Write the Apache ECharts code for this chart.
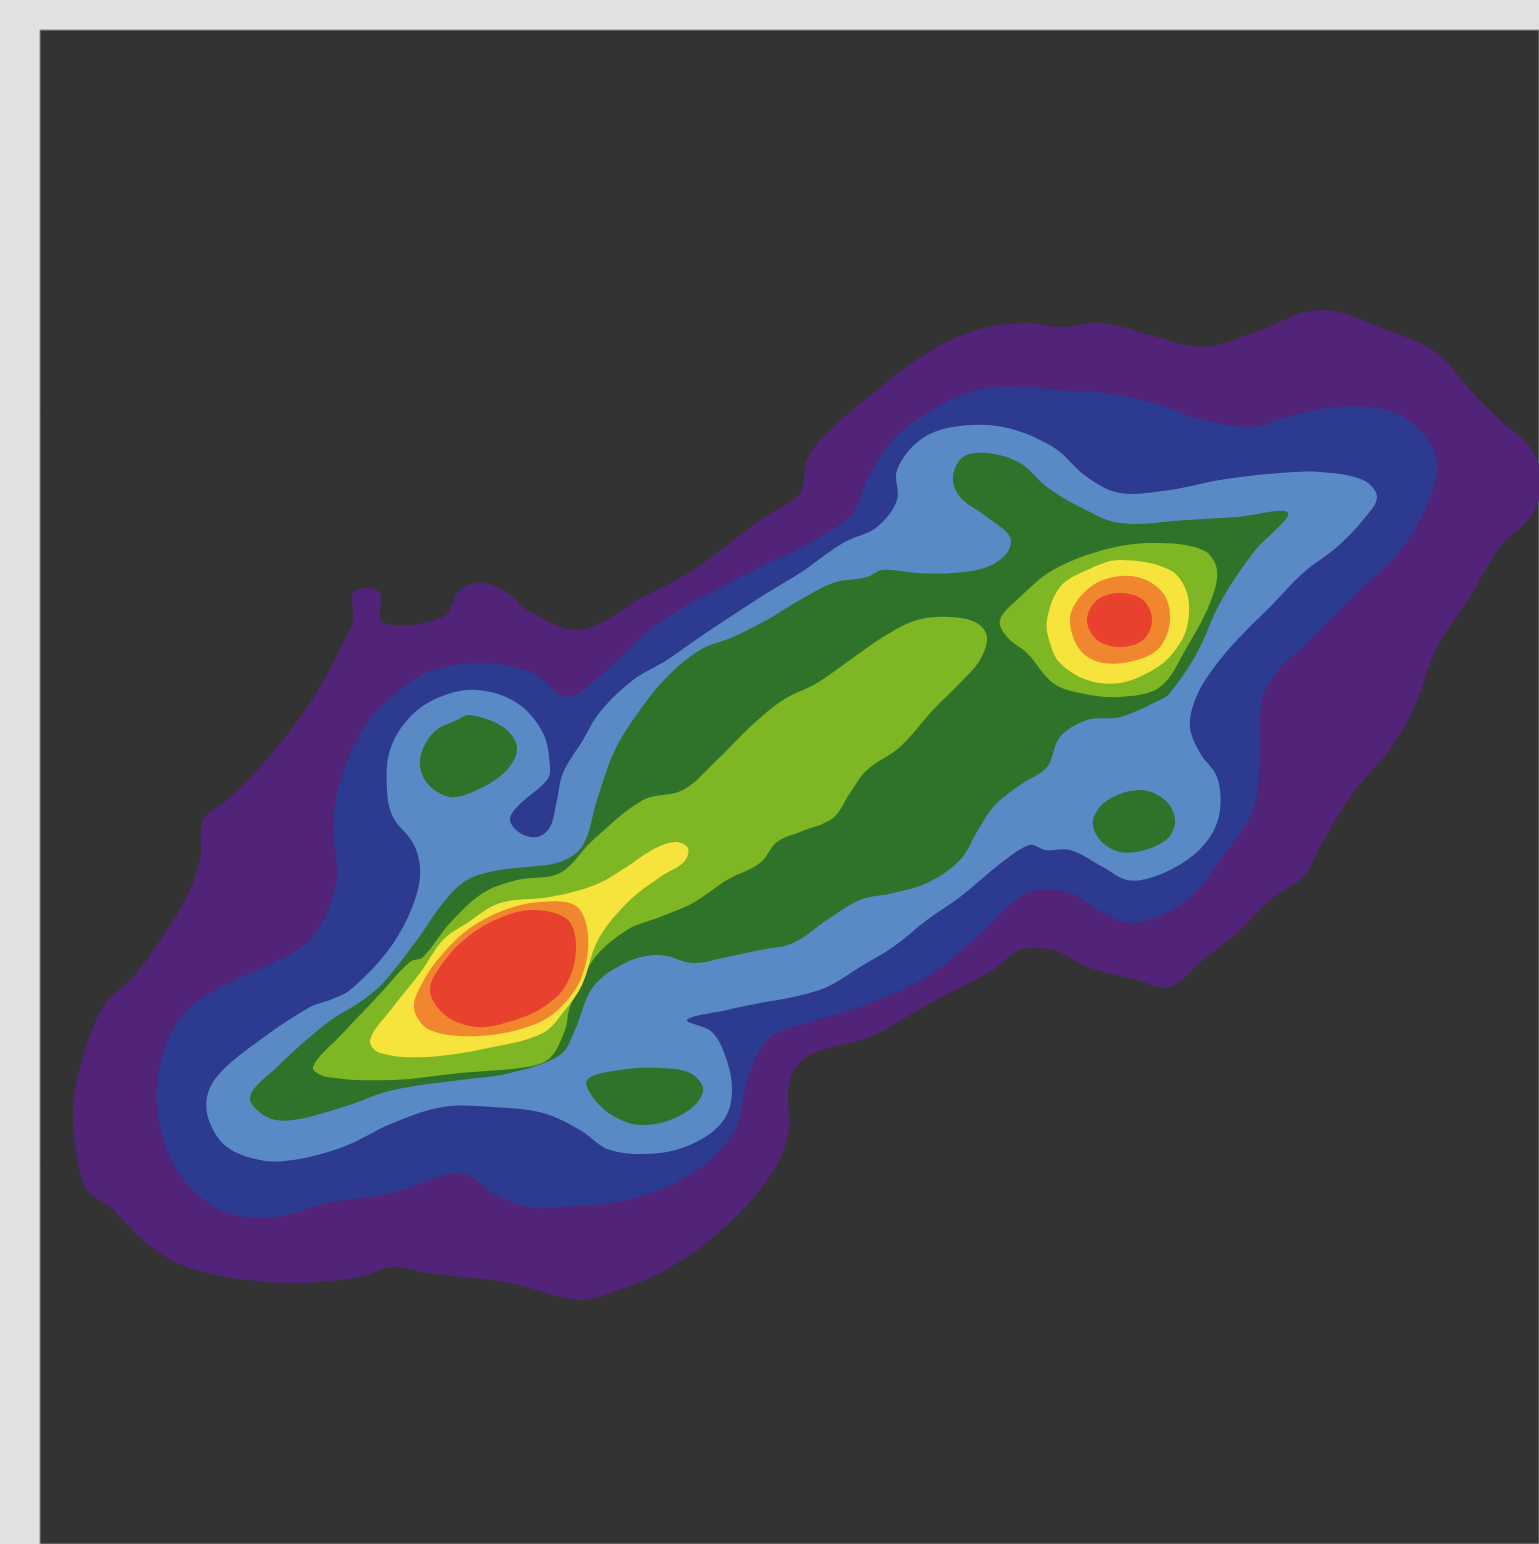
<!DOCTYPE html>
<html>
<head>
<meta charset="utf-8">
<title>Density contours</title>
<script src="https://cdn.jsdelivr.net/npm/echarts@6/dist/echarts.min.js"></script>
<style>
  html, body { margin: 0; padding: 0; background: #e2e2e2; }
  #chart { width: 1539px; height: 1544px; }
</style>
</head>
<body>
<div id="chart"></div>
<script>
// contour outlines, in the chart's own x / y units (y grows downwards)
const purpleOuter = [[353,620],[353,593],[368,588],[380,593],[383,623],[443,617],[460,590],[483,583],[510,595],[527,610],[580,630],[643,597],[693,570],[760,520],[800,493],[807,460],[827,433],[877,390],[927,353],[977,330],[1027,323],[1060,327],[1103,323],[1150,335],[1203,347],[1253,333],[1320,310],[1387,330],[1437,353],[1470,390],[1503,423],[1530,447],[1542,480],[1532,515],[1500,547],[1470,597],[1437,647],[1413,710],[1387,753],[1353,793],[1320,847],[1303,877],[1270,900],[1237,933],[1203,960],[1170,987],[1137,980],[1087,967],[1053,950],[1020,950],[993,970],[927,1005],[870,1037],[810,1055],[790,1080],[787,1140],[760,1190],[710,1240],[660,1273],[610,1293],[577,1300],[510,1283],[427,1273],[393,1267],[360,1277],[293,1283],[227,1277],[177,1263],[143,1240],[110,1207],[87,1190],[77,1157],[73,1107],[83,1057],[103,1007],[135,975],[160,940],[185,900],[200,860],[203,820],[227,800],[260,767],[293,727],[320,687],[343,643]];

const darkBlueOuter = [[433,670],[483,663],[533,673],[567,697],[610,667],[650,630],[687,605],[710,593],[760,567],[810,543],[853,513],[867,480],[893,440],[927,413],[977,390],[1027,387],[1053,390],[1103,393],[1153,403],[1203,420],[1253,427],[1287,417],[1337,407],[1387,410],[1420,430],[1437,463],[1430,497],[1403,547],[1353,597],[1303,647],[1280,668],[1262,700],[1260,760],[1253,810],[1220,860],[1187,900],[1137,923],[1103,913],[1070,893],[1027,893],[977,937],[927,977],[860,1007],[793,1027],[767,1040],[747,1080],[735,1130],[693,1173],[627,1200],[560,1207],[527,1207],[493,1193],[460,1173],[393,1193],[327,1203],[277,1217],[227,1213],[193,1190],[170,1157],[157,1107],[162,1057],[185,1012],[225,985],[275,962],[310,940],[330,905],[337,873],[333,823],[343,773],[367,723],[400,690]];

const lightBlueOuter = [[477,690],[517,703],[543,733],[550,767],[547,780],[517,807],[510,820],[520,833],[537,837],[550,827],[557,800],[563,773],[583,740],[600,712],[633,680],[667,660],[700,637],[733,615],[767,593],[800,573],[843,543],[877,527],[897,500],[897,470],[920,440],[953,427],[1003,427],[1053,447],[1087,477],[1120,493],[1170,490],[1220,480],[1280,473],[1320,472],[1363,480],[1377,497],[1363,520],[1337,547],[1303,573],[1270,607],[1237,640],[1210,673],[1195,700],[1190,727],[1200,753],[1217,777],[1220,810],[1210,837],[1187,860],[1153,877],[1127,880],[1103,867],[1070,850],[1045,850],[1030,845],[1005,860],[960,897],[927,920],[893,947],[860,967],[827,987],[793,997],[760,1003],[727,1010],[687,1020],[712,1032],[726,1058],[732,1090],[725,1118],[700,1140],[660,1153],[610,1150],[580,1130],[543,1113],[493,1107],[443,1107],[393,1123],[343,1147],[293,1160],[260,1160],[227,1147],[210,1123],[207,1097],[220,1073],[260,1040],[310,1007],[330,1000],[350,990],[383,957],[403,927],[417,893],[420,867],[413,843],[393,817],[387,790],[390,750],[410,717],[440,697]];

const darkGreenBody = [[250,1097],[277,1067],[327,1023],[363,1000],[383,983],[417,940],[443,903],[467,880],[500,870],[560,862],[583,845],[597,800],[615,750],[640,710],[667,677],[700,650],[733,637],[767,620],[800,600],[833,583],[867,577],[883,570],[917,573],[953,573],[987,567],[1007,553],[1010,537],[987,517],[960,497],[953,477],[963,457],[987,453],[1020,463],[1047,487],[1080,507],[1120,523],[1187,520],[1237,517],[1288,513],[1253,553],[1220,603],[1197,653],[1170,693],[1160,700],[1120,717],[1087,720],[1060,737],[1047,767],[1020,785],[995,805],[978,830],[960,860],[927,883],[893,893],[860,900],[827,920],[793,943],[760,950],[727,957],[693,963],[660,955],[627,962],[593,987],[575,1030],[560,1055],[510,1073],[460,1080],[393,1090],[343,1107],[293,1120],[267,1117]];
const darkGreenLeftIsland = [[470,715],[503,727],[517,747],[507,770],[477,790],[450,797],[427,783],[420,760],[433,733],[457,720]];
const darkGreenLowIsland = [[587,1080],[620,1070],[660,1068],[690,1073],[703,1088],[695,1105],[670,1120],[640,1125],[615,1117],[595,1100]];
const darkGreenRightIsland = [[1140,790],[1165,800],[1175,820],[1168,838],[1145,850],[1120,852],[1100,840],[1093,820],[1108,800]];

const lightGreenBody = [[313,1067],[343,1033],[377,997],[410,962],[423,957],[450,923],[483,893],[517,880],[560,873],[593,840],[643,800],[683,790],[717,760],[750,727],[783,700],[817,683],[850,660],[883,637],[917,620],[950,617],[977,623],[987,637],[980,660],[960,683],[933,710],[900,747],[867,770],[850,793],[833,818],[800,832],[777,842],[760,863],[727,880],[693,903],[660,917],[627,930],[593,960],[570,1007],[565,1030],[550,1058],[527,1067],[460,1073],[393,1080],[327,1077]];
const lightGreenRight = [[1000,620],[1020,597],[1053,570],[1103,550],[1153,543],[1203,550],[1217,570],[1210,603],[1187,647],[1160,687],[1120,697],[1080,693],[1053,683],[1027,653],[1007,637]];

const yellowLeft = [[370,1040],[393,1007],[420,973],[443,940],[467,923],[500,903],[550,897],[595,885],[625,868],[652,850],[675,842],[688,848],[684,862],[660,877],[627,903],[598,940],[582,985],[565,1010],[543,1033],[493,1047],[427,1057],[380,1053]];
const yellowRight = [[1047,620],[1060,587],[1087,570],[1120,560],[1170,570],[1187,593],[1187,627],[1173,653],[1153,670],[1120,683],[1087,680],[1060,663],[1050,643]];

const orangeLeft = [[414,1008],[425,978],[446,950],[470,928],[502,911],[540,902],[576,906],[588,935],[582,976],[561,1007],[533,1025],[480,1036],[430,1030]];
const orangeRight = [[1070,620],[1080,597],[1103,580],[1137,577],[1163,593],[1170,620],[1160,647],[1137,660],[1103,663],[1080,650]];

const redLeft = [[430,990],[445,960],[470,935],[502,917],[535,910],[568,920],[576,950],[566,985],[545,1006],[515,1020],[477,1027],[445,1015]];
const redRight = [[1087,620],[1097,600],[1120,593],[1143,600],[1152,620],[1143,640],[1120,647],[1097,640]];

const levelColors = ['#512479', '#2c3b8f', '#5a8ac6', '#2e7329', '#7eb624', '#f6e33c', '#f0872e', '#e8412d'];
const levelShapes = [
  [purpleOuter],
  [darkBlueOuter],
  [lightBlueOuter],
  [darkGreenBody, darkGreenLeftIsland, darkGreenLowIsland, darkGreenRightIsland],
  [lightGreenBody, lightGreenRight],
  [yellowLeft, yellowRight],
  [orangeLeft, orangeRight],
  [redLeft, redRight]
];

const chart = echarts.init(document.getElementById('chart'));

const series = levelShapes.map((shapes, level) => ({
  type: 'custom',
  coordinateSystem: 'cartesian2d',
  silent: true,
  animation: false,
  clip: true,
  z: 2 + level,
  encode: { x: 0, y: 1 },
  data: shapes.map((pts, i) => [pts[0][0], pts[0][1], i]),
  renderItem: (params, api) => {
    const pts = shapes[params.dataIndex].map(p => api.coord(p));
    return {
      type: 'polygon',
      shape: { points: pts, smooth: 0.35 },
      style: { fill: levelColors[level] }
    };
  }
}));

const option = {
  backgroundColor: '#e2e2e2',
  animation: false,
  grid: {
    left: 40,
    top: 30,
    right: 0,
    bottom: 0,
    show: true,
    backgroundColor: '#333333',
    borderColor: '#8c8c8c',
    borderWidth: 1
  },
  xAxis: { type: 'value', min: 40, max: 1539, show: false },
  yAxis: { type: 'value', min: 30, max: 1544, inverse: true, show: false },
  series: series
};
chart.setOption(option);
</script>
</body>
</html>
